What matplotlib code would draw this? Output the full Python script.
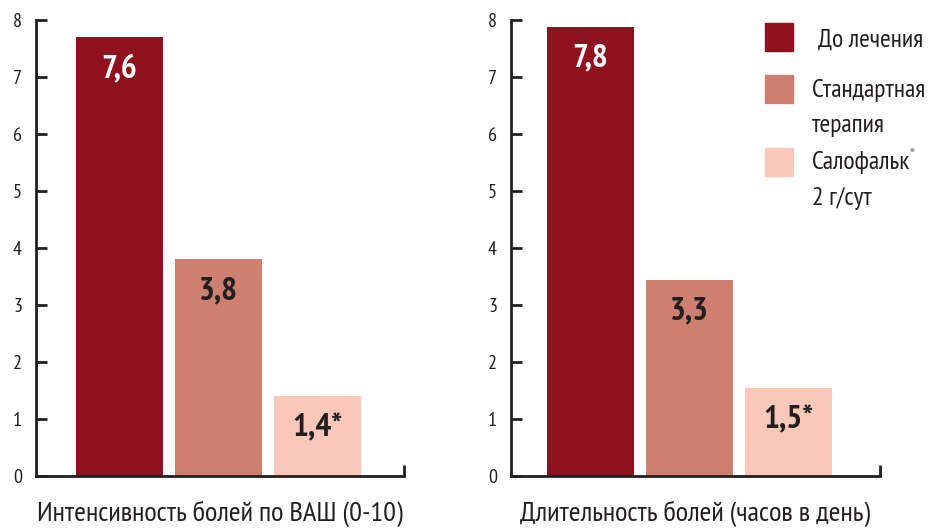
#!/usr/bin/env python3

import matplotlib
matplotlib.use("Agg")
import matplotlib.pyplot as plt
from matplotlib.patches import Rectangle

plt.rcParams['font.family'] = ['PT Sans Narrow', 'DejaVu Sans']

groups = ["До лечения", "Стандартная\nтерапия", "Салофальк"]
colors = ["#8F101E", "#CD806F", "#F9C8BA"]
text_colors = ["white", "#231F20", "#231F20"]

# bar heights as drawn, and the printed value labels
pain_heights = [7.7, 3.8, 1.4]
pain_labels = ["7,6", "3,8", "1,4*"]
dur_heights = [7.88, 3.44, 1.54]
dur_labels = ["7,8", "3,3", "1,5*"]

titles = ["Интенсивность болей по ВАШ (0-10)", "Длительность болей (часов в день)"]
yticks = [0, 1, 2, 3, 4, 5, 6, 7, 8]

W, H = 931, 528
dark = "#231F20"

fig = plt.figure(figsize=(W / 100, H / 100), dpi=100)


def px(x0, y0, x1, y1):
    return [x0 / W, 1 - y1 / H, (x1 - x0) / W, (y1 - y0) / H]


def draw_panel(rect, heights, labels, title, xlim):
    ax = fig.add_axes(rect)
    xs = range(len(heights))
    ax.bar(xs, heights, width=0.88, color=colors)
    for x, h, lab, tc in zip(xs, heights, labels, text_colors):
        ax.annotate(lab, (x, h), xytext=(0, -23), textcoords="offset points",
                    ha="center", va="center", fontsize=24, fontweight="bold",
                    color=tc)
    ax.set_xlim(*xlim)
    ax.set_ylim(0, 8)
    ax.set_yticks(yticks)
    ax.set_xticks([xlim[1]])
    ax.tick_params(axis="y", direction="in", length=8, width=2,
                   color=dark, labelsize=14.5, labelcolor=dark, pad=10)
    ax.tick_params(axis="x", direction="in", length=8, width=2,
                   color=dark, labelbottom=False)
    for s in ["top", "right"]:
        ax.spines[s].set_visible(False)
    for s in ["left", "bottom"]:
        ax.spines[s].set_linewidth(2)
        ax.spines[s].set_color(dark)
    ax.set_xlabel(title, fontsize=20.5, color=dark, labelpad=18)
    return ax


draw_panel(px(36, 20, 404, 476), pain_heights, pain_labels, titles[0],
           (-0.843, 2.874))
draw_panel(px(511, 20, 880, 476), dur_heights, dur_labels, titles[1],
           (-0.803, 2.924))

# legend drawn by hand to keep the stacked layout
legend_boxes = [(765, 23), (765, 75), (765, 148)]
for (bx, by), c in zip(legend_boxes, colors):
    fig.add_artist(Rectangle((bx / W, 1 - (by + 28) / H), 28 / W, 28 / H,
                             transform=fig.transFigure, color=c))

fs = 18.5
fig.text(818 / W, 1 - 40 / H, "До лечения", fontsize=fs, color=dark, va="center")
fig.text(812 / W, 1 - 90 / H, "Стандартная", fontsize=fs, color=dark, va="center")
fig.text(812 / W, 1 - 125 / H, "терапия", fontsize=fs, color=dark, va="center")
fig.text(812 / W, 1 - 162 / H, "Салофальк", fontsize=fs, color=dark, va="center")
fig.text(909 / W, 1 - 153 / H, "®", fontsize=6, color=dark, va="center")
fig.text(812 / W, 1 - 198 / H, "2 г/сут", fontsize=fs, color=dark, va="center")

fig.savefig("out.png", dpi=100)
